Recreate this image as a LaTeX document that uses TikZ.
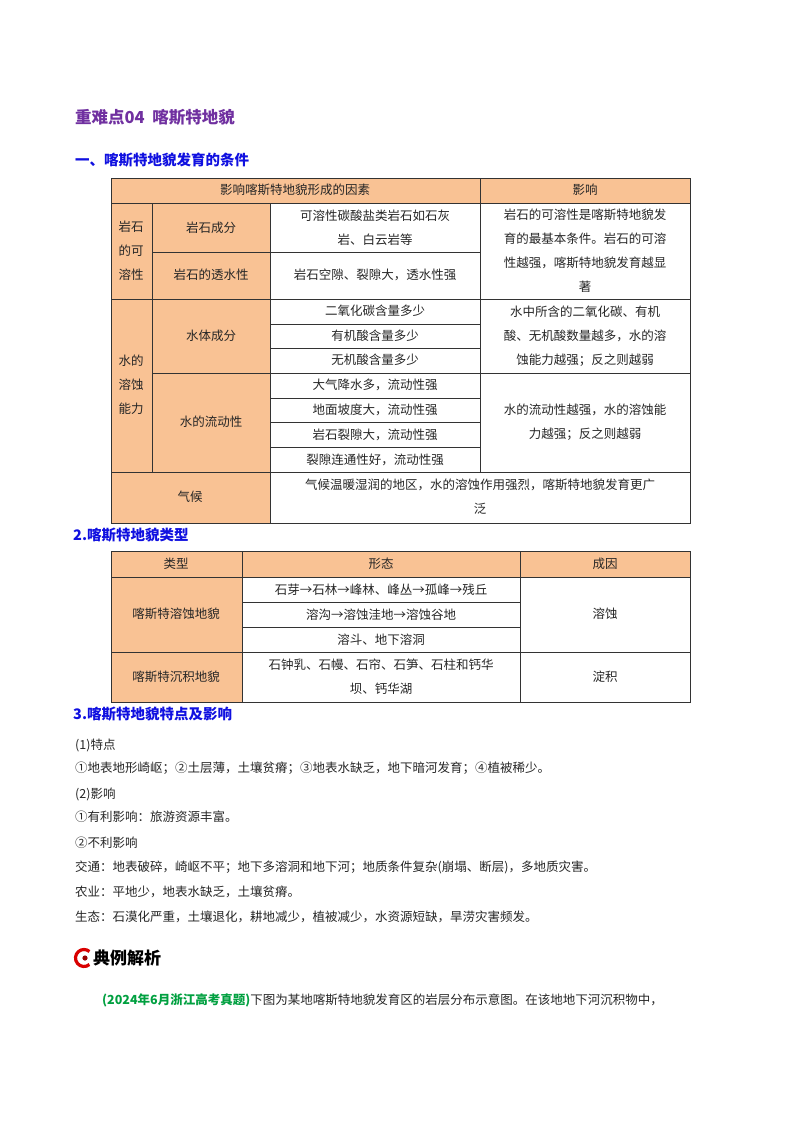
\documentclass[tikz,border=0pt]{standalone}
\usepackage{fontspec}
\setmainfont{Liberation Serif}
\newfontfamily\cjk{Noto Sans CJK SC}
\newfontfamily\cjkb{Noto Sans CJK SC Bold}
\begin{document}
\begin{tikzpicture}[x=1pt,y=-1pt,
  cellf/.style={fill=orangecell,draw=black!80,line width=0.6pt},
  cellw/.style={fill=white,draw=black!80,line width=0.6pt},
  tx/.style={font=\cjk\fontsize{12.5}{24}\selectfont,align=center,inner sep=0pt,text=black!85},
  body/.style={font=\cjk\fontsize{12.5}{15}\selectfont,anchor=west,inner sep=0pt,text=black!85},
  head/.style={font=\cjk\bfseries\fontsize{14.5}{17}\selectfont,anchor=west,inner sep=0pt,text=headblue}]
\definecolor{orangecell}{HTML}{F9C294}
\definecolor{headblue}{HTML}{1010E0}
\definecolor{titlepurple}{HTML}{7030A0}
\definecolor{greentxt}{HTML}{00A040}
\useasboundingbox[fill=white] (0,0) rectangle (800,1132);
% title
\node[anchor=west,inner sep=0pt,text=titlepurple,font=\cjk\bfseries\fontsize{16.5}{18}\selectfont] (title) at (75,117) {重难点04\ \ 喀斯特地貌};
\node[head] (h1) at (75,160) {一、喀斯特地貌发育的条件};
% table 1
\draw[cellf] (111,178) rectangle (480,203);
\draw[cellf] (480,178) rectangle (690,203);
\draw[cellf] (111,203) rectangle (152,299);
\draw[cellf] (152,203) rectangle (270,252);
\draw[cellf] (152,252) rectangle (270,299);
\draw[cellw] (270,203) rectangle (480,252);
\draw[cellw] (270,252) rectangle (480,299);
\draw[cellw] (480,203) rectangle (690,299);
\draw[cellf] (111,299) rectangle (152,472);
\draw[cellf] (152,299) rectangle (270,373);
\draw[cellf] (152,373) rectangle (270,472);
\foreach \a/\b in {299/324,324/348,348/373,373/398,398/422,422/447,447/472}
  \draw[cellw] (270,\a) rectangle (480,\b);
\draw[cellw] (480,299) rectangle (690,373);
\draw[cellw] (480,373) rectangle (690,472);
\draw[cellf] (111,472) rectangle (270,523);
\draw[cellw] (270,472) rectangle (690,523);
\node[tx] (t1h1) at (295,190) {影响喀斯特地貌形成的因素};
\node[tx] (t1h2) at (585,190) {影响};
\node[tx] (ys) at (131,251) {岩石\\的可\\溶性};
\node[tx] (ycf) at (211,228) {岩石成分};
\node[tx] (ytsx) at (211,275) {岩石的透水性};
\node[tx] (c1) at (375,228) {可溶性碳酸盐类岩石如石灰\\岩、白云岩等};
\node[tx] (c2) at (375,275) {岩石空隙、裂隙大，透水性强};
\node[tx] (r1) at (585,251) {岩石的可溶性是喀斯特地貌发\\育的最基本条件。岩石的可溶\\性越强，喀斯特地貌发育越显\\著};
\node[tx] (sd) at (131,385) {水的\\溶蚀\\能力};
\node[tx] (stcf) at (211,336) {水体成分};
\node[tx] (c3) at (375,311) {二氧化碳含量多少};
\node[tx] (c4) at (375,336) {有机酸含量多少};
\node[tx] (c5) at (375,360) {无机酸含量多少};
\node[tx] (r2) at (585,336) {水中所含的二氧化碳、有机\\酸、无机酸数量越多，水的溶\\蚀能力越强；反之则越弱};
\node[tx] (ldx) at (211,422) {水的流动性};
\node[tx] (c6) at (375,385) {大气降水多，流动性强};
\node[tx] (c7) at (375,410) {地面坡度大，流动性强};
\node[tx] (c8) at (375,435) {岩石裂隙大，流动性强};
\node[tx] (c9) at (375,460) {裂隙连通性好，流动性强};
\node[tx] (r3) at (585,422) {水的流动性越强，水的溶蚀能\\力越强；反之则越弱};
\node[tx] (qh) at (190,497) {气候};
\node[tx] (r4) at (480,497) {气候温暖湿润的地区，水的溶蚀作用强烈，喀斯特地貌发育更广\\泛};
% section 2
\node[head] (h2) at (73,535) {2.喀斯特地貌类型};
\draw[cellf] (111,551) rectangle (242,577);
\draw[cellf] (242,551) rectangle (520,577);
\draw[cellf] (520,551) rectangle (690,577);
\draw[cellf] (111,577) rectangle (242,652);
\draw[cellf] (111,652) rectangle (242,702);
\foreach \a/\b in {577/602,602/627,627/652,652/702}
  \draw[cellw] (242,\a) rectangle (520,\b);
\draw[cellw] (520,577) rectangle (690,652);
\draw[cellw] (520,652) rectangle (690,702);
\node[tx] (lx) at (176,564) {类型};
\node[tx] (xt) at (381,564) {形态};
\node[tx] (cy) at (605,564) {成因};
\node[tx] (rsd) at (176,614) {喀斯特溶蚀地貌};
\node[tx] (d1) at (381,590) {石芽→石林→峰林、峰丛→孤峰→残丘};
\node[tx] (d2) at (381,615) {溶沟→溶蚀洼地→溶蚀谷地};
\node[tx] (d3) at (381,640) {溶斗、地下溶洞};
\node[tx] (rs) at (605,614) {溶蚀};
\node[tx] (cj) at (176,677) {喀斯特沉积地貌};
\node[tx] (d4) at (381,677) {石钟乳、石幔、石帘、石笋、石柱和钙华\\坝、钙华湖};
\node[tx] (dj) at (605,677) {淀积};
% section 3
\node[head] (h3) at (73,714) {3.喀斯特地貌特点及影响};
\node[body] (b1) at (75,745) {(1)特点};
\node[body] (b2) at (75,768) {①地表地形崎岖；②土层薄，土壤贫瘠；③地表水缺乏，地下暗河发育；④植被稀少。};
\node[body] (b3) at (75,794) {(2)影响};
\node[body] (b4) at (75,817) {①有利影响：旅游资源丰富。};
\node[body] (b5) at (75,843) {②不利影响};
\node[body] (b6) at (75,867) {交通：地表破碎，崎岖不平；地下多溶洞和地下河；地质条件复杂(崩塌、断层)，多地质灾害。};
\node[body] (b7) at (75,892) {农业：平地少，地表水缺乏，土壤贫瘠。};
\node[body] (b8) at (75,917) {生态：石漠化严重，土壤退化，耕地减少，植被减少，水资源短缺，旱涝灾害频发。};
% example
\draw[red!85!black,line width=3.2pt] (84,958) ++(50:8.5) arc (50:310:8.5);
\fill[red!60!black] (85,958) circle (2.6);
\node[anchor=west,inner sep=0pt,font=\cjk\bfseries\fontsize{17}{19}\selectfont] (dl) at (93,958) {典例解析};
\node[body] (ex) at (102,1000) {{\color{greentxt}\bfseries(2024年6月浙江高考真题)}下图为某地喀斯特地貌发育区的岩层分布示意图。在该地地下河沉积物中，};
\end{tikzpicture}
\end{document}
